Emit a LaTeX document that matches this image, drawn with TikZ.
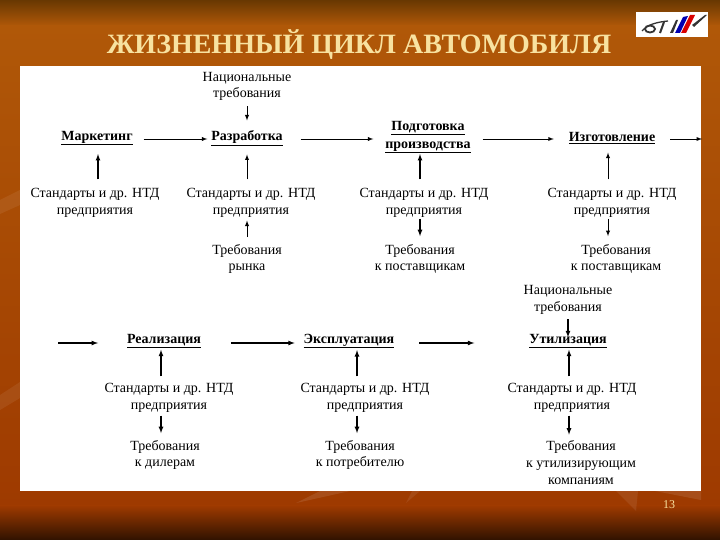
\documentclass[tikz,border=0pt]{standalone}
\usepackage{fontspec}
\setmainfont{Liberation Serif}
\definecolor{bgtop}{RGB}{104,56,2}
\definecolor{bgmid}{RGB}{176,88,8}
\definecolor{bglow}{RGB}{158,58,0}
\definecolor{bgend}{RGB}{48,18,0}
\definecolor{titlecol}{RGB}{248,226,160}
\tikzset{
	txt/.style={align=center,inner sep=0pt,outer sep=0pt,font=\fontsize{14}{16.8}\selectfont},
	stage/.style={txt,font=\fontsize{14}{18}\selectfont\bfseries},
	flow/.style={->,>=latex,line width=0.9pt},
	feed/.style={->,>=latex,line width=1.2pt}
}
\newcommand{\stagename}[1]{\underline{#1}}
\begin{document}
\begin{tikzpicture}[x=1pt,y=-1pt]
\useasboundingbox (0,0) rectangle (720,540);
% background
\fill[top color=bgtop,bottom color=bgmid,draw=none] (0,0) rectangle (720,26);
\fill[top color=bgmid,bottom color=bglow,draw=none] (0,25.5) rectangle (720,506);
\fill[top color=bglow,bottom color=bgend,draw=none] (0,505.5) rectangle (720,540);
\fill[white,opacity=0.07] (0,200) -- (20,190) -- (20,205) -- (0,214) -- cycle;
\fill[white,opacity=0.07] (0,395) -- (20,382) -- (20,398) -- (0,410) -- cycle;
\fill[white,opacity=0.10] (655,491) -- (701,491) -- (701,500) -- cycle;
\fill[white,opacity=0.10] (296,503) -- (350,491) -- (320,491) -- cycle;
\fill[white,opacity=0.08] (406,503) -- (420,491) -- (412,491) -- cycle;
\fill[white,opacity=0.08] (636,511) -- (616,491) -- (638,491) -- cycle;
% sheet and heading
\fill[white] (20,66) rectangle (701,491);
\node[font=\fontsize{28}{30}\selectfont\bfseries,text=titlecol,inner sep=0pt] (heading) at (359,45) {ЖИЗНЕННЫЙ ЦИКЛ АВТОМОБИЛЯ};
\node[font=\fontsize{12}{12}\selectfont,text=titlecol,inner sep=0pt] (pagenum) at (669,505) {13};
% logo
\fill[white] (636,12) rectangle (708,37);
\draw[black!80,line width=1.8pt] (650,29) ellipse (5 and 3.5);
\draw[black!80,line width=1.3pt] (642,31) .. controls (648,24) and (658,22) .. (668,21);
\draw[black!80,line width=2pt] (664,22) -- (660,33);
\fill[black!80] (670,33) -- (676,20) -- (678,20) -- (673,33) -- cycle;
\fill[blue!70!black] (675,33) -- (683,17) -- (688,16) -- (680,33) -- cycle;
\fill[red!85!black] (681,33) -- (690,15) -- (695,15) -- (686,33) -- cycle;
\fill[black!80] (692,25) -- (705,15) -- (707,15) -- (694,27) -- cycle;
% upper row
\node[txt] (natreqa) at (247,86.5) {Национальные\\требования};
\node[stage] (market) at (97,138) {\stagename{Маркетинг}};
\node[stage] (devel) at (247,138) {\stagename{Разработка}};
\node[stage] (prepar) at (428,137) {\stagename{Подготовка}\\\stagename{производства}};
\node[stage] (manuf) at (612,138) {\stagename{Изготовление}};
\node[txt] (stdm) at (95,202.5) {Стандарты и др. НТД\\предприятия};
\node[txt] (stdd) at (251,202.5) {Стандарты и др. НТД\\предприятия};
\node[txt] (stdp) at (424,202.5) {Стандарты и др. НТД\\предприятия};
\node[txt] (stdf) at (612,202.5) {Стандарты и др. НТД\\предприятия};
\node[txt] (reqd) at (247,259) {Требования\\рынка};
\node[txt] (reqp) at (420,259) {Требования\\к поставщикам};
\node[txt] (reqf) at (616,259) {Требования\\к поставщикам};
\coordinate (outa) at (702,139);
% lower row
\node[txt] (natreqb) at (568,300) {Национальные\\требования};
\coordinate (ina) at (58,343);
\node[stage] (sales) at (164,341) {\stagename{Реализация}};
\node[stage] (usage) at (349,341) {\stagename{Эксплуатация}};
\node[stage] (recyc) at (568,341) {\stagename{Утилизация}};
\node[txt] (stds) at (169,397.5) {Стандарты и др. НТД\\предприятия};
\node[txt] (stdu) at (365,397.5) {Стандарты и др. НТД\\предприятия};
\node[txt] (stdr) at (572,397.5) {Стандарты и др. НТД\\предприятия};
\node[txt] (reqs) at (165,455) {Требования\\к дилерам};
\node[txt] (requ) at (360,455) {Требования\\к потребителю};
\node[txt] (reqr) at (581,462.5) {Требования\\к утилизирующим\\компаниям};
% main flow
\draw[flow] ([xshift=11pt,yshift=-1pt]market.east) -- ([xshift=-4pt,yshift=-1pt]devel.west);
\draw[flow] ([xshift=18pt,yshift=-1pt]devel.east) -- ([xshift=-12pt,yshift=-2pt]prepar.west);
\draw[flow] ([xshift=12pt,yshift=-2pt]prepar.east) -- ([xshift=-15pt,yshift=-1pt]manuf.west);
\draw[flow] ([xshift=15pt,yshift=-1pt]manuf.east) -- (outa);
\draw[feed] (ina) -- ([xshift=-29pt,yshift=-2pt]sales.west);
\draw[feed] ([xshift=30pt,yshift=-2pt]sales.east) -- ([xshift=-9pt,yshift=-2pt]usage.west);
\draw[feed] ([xshift=25pt,yshift=-2pt]usage.east) -- ([xshift=-55pt,yshift=-2pt]recyc.west);
% feeds, upper
\draw[flow] ([yshift=-5.5pt]natreqa.south) -- ([yshift=10pt]devel.north);
\draw[feed] ([xshift=3pt,yshift=8.5pt]stdm.north) -- ([xshift=1pt,yshift=-9pt]market.south);
\draw[flow] ([xshift=-4pt,yshift=8.5pt]stdd.north) -- ([yshift=-9pt]devel.south);
\draw[feed] ([xshift=-4pt,yshift=8.5pt]stdp.north) -- ([xshift=-8pt,yshift=-1pt]prepar.south);
\draw[flow] ([xshift=-4pt,yshift=8.5pt]stdf.north) -- ([xshift=-4pt,yshift=-9pt]manuf.south);
\draw[flow] ([yshift=7pt]reqd.north) -- ([xshift=-4pt,yshift=-3.5pt]stdd.south);
\draw[feed] ([xshift=-4pt,yshift=-1.5pt]stdp.south) -- ([yshift=8pt]reqp.north);
\draw[flow] ([xshift=-4pt,yshift=-1.5pt]stdf.south) -- ([xshift=-8pt,yshift=8pt]reqf.north);
% feeds, lower
\draw[feed] ([yshift=-5pt]natreqb.south) -- ([yshift=-3pt]recyc.north);
\draw[feed] ([xshift=-8pt,yshift=6.5pt]stds.north) -- ([xshift=-3pt,yshift=-2pt]sales.south);
\draw[feed] ([xshift=-8pt,yshift=6.5pt]stdu.north) -- ([xshift=8pt,yshift=-2pt]usage.south);
\draw[feed] ([xshift=-3pt,yshift=6.5pt]stdr.north) -- ([xshift=1pt,yshift=-2pt]recyc.south);
\draw[feed] ([xshift=-8pt,yshift=-3.5pt]stds.south) -- ([xshift=-4pt,yshift=7pt]reqs.north);
\draw[feed] ([xshift=-8pt,yshift=-3.5pt]stdu.south) -- ([xshift=-3pt,yshift=7pt]requ.north);
\draw[feed] ([xshift=-3pt,yshift=-3.5pt]stdr.south) -- ([xshift=-12pt,yshift=6pt]reqr.north);
\end{tikzpicture}
\end{document}
